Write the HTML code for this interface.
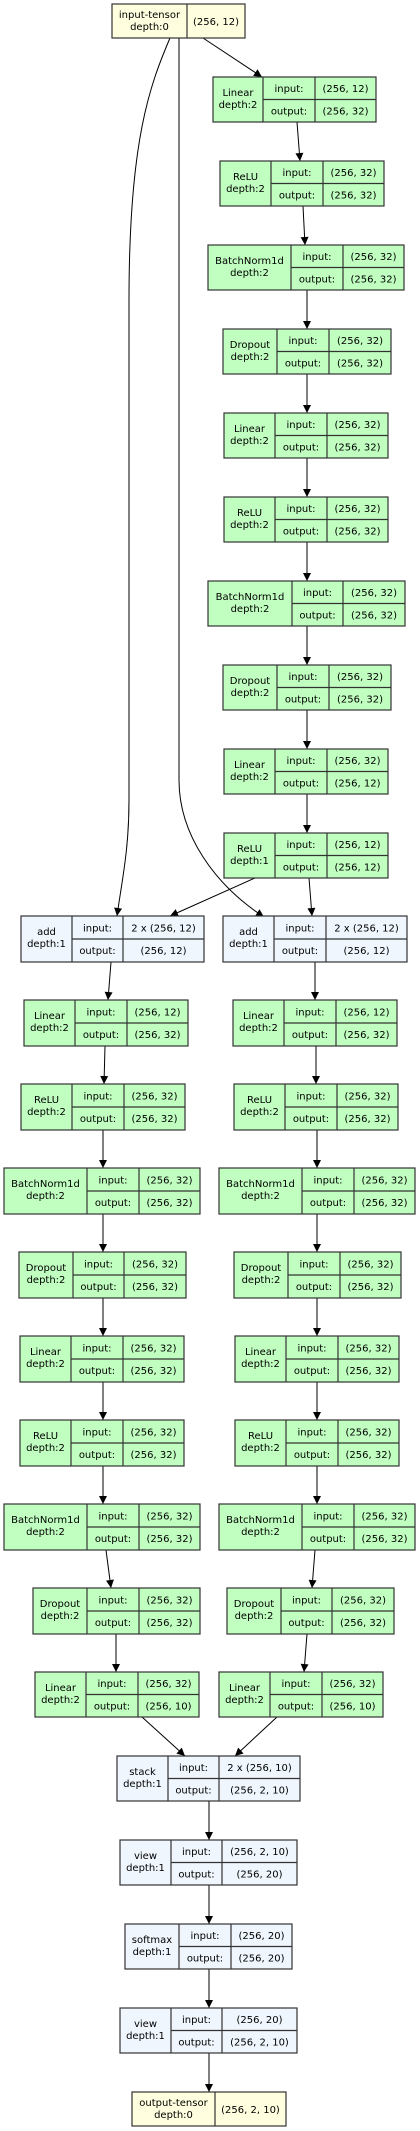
<!DOCTYPE html>
<html><head><meta charset="utf-8"><style>
html,body{margin:0;padding:0;background:#fff}
svg{display:block}
text{font-family:"DejaVu Sans","Liberation Sans",sans-serif;font-size:10px;fill:#000}
.g{fill:#c1ffc1;stroke:#333;stroke-width:1.2}
.b{fill:#eff6fd;stroke:#333;stroke-width:1.2}
.y{fill:#ffffe0;stroke:#333;stroke-width:1.2}
.l{stroke:#333;stroke-width:1.2}
.e{stroke:#000;stroke-width:1;fill:none;marker-end:url(#a)}
</style></head><body>
<svg width="420" height="2131" viewBox="0 0 420 2131" xmlns="http://www.w3.org/2000/svg">
<defs><marker id="a" viewBox="0 0 10 10" refX="10" refY="5" markerWidth="10" markerHeight="8" markerUnits="userSpaceOnUse" orient="auto"><path d="M0,0 L10,5 L0,10 z" fill="#000"/></marker></defs>

<!-- edges -->
<path class="e" d="M203,38 L262,77"/>
<path class="e" d="M297,122 L300,161"/>
<path class="e" d="M303,206 L305,245"/>
<path class="e" d="M307,290 L307,329"/>
<path class="e" d="M307,374 L307,413"/>
<path class="e" d="M307,458 L307,497"/>
<path class="e" d="M307,542 L307,581"/>
<path class="e" d="M307,626 L307,665"/>
<path class="e" d="M307,710 L307,749"/>
<path class="e" d="M307,794 L307,833"/>
<path class="e" d="M170,38 C150,85 129,140 129,300 L129,800 C129,850 122,880 117,916"/>
<path class="e" d="M179,38 L179,780 C179,835 215,885 264,917"/>
<path class="e" d="M255,878 L170,916"/>
<path class="e" d="M309,878 L312,916"/>
<path class="e" d="M111,962 L108,1000"/>
<path class="e" d="M105,1046 L104,1084"/>
<path class="e" d="M103,1130 L103,1168"/>
<path class="e" d="M103,1214 L103,1252"/>
<path class="e" d="M103,1298 L103,1336"/>
<path class="e" d="M103,1382 L103,1420"/>
<path class="e" d="M103,1466 L103,1504"/>
<path class="e" d="M106,1550 L111,1588"/>
<path class="e" d="M116,1634 L116,1672"/>
<path class="e" d="M142,1717 L185,1756"/>
<path class="e" d="M315,962 L315,1000"/>
<path class="e" d="M316,1046 L316,1084"/>
<path class="e" d="M317,1130 L317,1168"/>
<path class="e" d="M317,1214 L317,1252"/>
<path class="e" d="M317,1298 L317,1336"/>
<path class="e" d="M317,1382 L317,1420"/>
<path class="e" d="M317,1466 L317,1504"/>
<path class="e" d="M315,1550 L312,1588"/>
<path class="e" d="M307,1634 L304,1672"/>
<path class="e" d="M277,1717 L235,1756"/>
<path class="e" d="M209,1801 L209,1840"/>
<path class="e" d="M209,1885 L209,1924"/>
<path class="e" d="M209,1969 L209,2008"/>
<path class="e" d="M209,2053 L209,2092"/>

<!-- input tensor -->
<rect class="y" x="112" y="4" width="133" height="34"/><line class="l" x1="187" y1="4" x2="187" y2="38"/>
<text x="149.5" y="18" text-anchor="middle">input-tensor</text><text x="149.5" y="30" text-anchor="middle">depth:0</text>
<text x="216" y="25" text-anchor="middle">(256, 12)</text>

<!-- top chain -->
<g>
<rect class="g" x="213" y="77" width="163" height="45"/><line class="l" x1="263" y1="77" x2="263" y2="122"/><line class="l" x1="315" y1="77" x2="315" y2="122"/><line class="l" x1="263" y1="99.5" x2="376" y2="99.5"/>
<text x="238" y="96" text-anchor="middle">Linear</text><text x="238" y="108" text-anchor="middle">depth:2</text>
<text x="289" y="92" text-anchor="middle">input:</text><text x="345.5" y="92" text-anchor="middle">(256, 12)</text>
<text x="289" y="114.5" text-anchor="middle">output:</text><text x="345.5" y="114.5" text-anchor="middle">(256, 32)</text>
</g>
<g>
<rect class="g" x="220" y="161" width="164" height="45"/><line class="l" x1="271" y1="161" x2="271" y2="206"/><line class="l" x1="323" y1="161" x2="323" y2="206"/><line class="l" x1="271" y1="183.5" x2="384" y2="183.5"/>
<text x="245.5" y="180" text-anchor="middle">ReLU</text><text x="245.5" y="192" text-anchor="middle">depth:2</text>
<text x="297" y="176" text-anchor="middle">input:</text><text x="353.5" y="176" text-anchor="middle">(256, 32)</text>
<text x="297" y="198.5" text-anchor="middle">output:</text><text x="353.5" y="198.5" text-anchor="middle">(256, 32)</text>
</g>
<g>
<rect class="g" x="208" y="245" width="196" height="45"/><line class="l" x1="291" y1="245" x2="291" y2="290"/><line class="l" x1="343" y1="245" x2="343" y2="290"/><line class="l" x1="291" y1="267.5" x2="404" y2="267.5"/>
<text x="249.5" y="264" text-anchor="middle">BatchNorm1d</text><text x="249.5" y="276" text-anchor="middle">depth:2</text>
<text x="317" y="260" text-anchor="middle">input:</text><text x="373.5" y="260" text-anchor="middle">(256, 32)</text>
<text x="317" y="282.5" text-anchor="middle">output:</text><text x="373.5" y="282.5" text-anchor="middle">(256, 32)</text>
</g>
<g>
<rect class="g" x="223" y="329" width="168" height="45"/><line class="l" x1="277" y1="329" x2="277" y2="374"/><line class="l" x1="329" y1="329" x2="329" y2="374"/><line class="l" x1="277" y1="351.5" x2="391" y2="351.5"/>
<text x="250" y="348" text-anchor="middle">Dropout</text><text x="250" y="360" text-anchor="middle">depth:2</text>
<text x="303" y="344" text-anchor="middle">input:</text><text x="360" y="344" text-anchor="middle">(256, 32)</text>
<text x="303" y="366.5" text-anchor="middle">output:</text><text x="360" y="366.5" text-anchor="middle">(256, 32)</text>
</g>
<g>
<rect class="g" x="224" y="413" width="164" height="45"/><line class="l" x1="275" y1="413" x2="275" y2="458"/><line class="l" x1="327" y1="413" x2="327" y2="458"/><line class="l" x1="275" y1="435.5" x2="388" y2="435.5"/>
<text x="249.5" y="432" text-anchor="middle">Linear</text><text x="249.5" y="444" text-anchor="middle">depth:2</text>
<text x="301" y="428" text-anchor="middle">input:</text><text x="357.5" y="428" text-anchor="middle">(256, 32)</text>
<text x="301" y="450.5" text-anchor="middle">output:</text><text x="357.5" y="450.5" text-anchor="middle">(256, 32)</text>
</g>
<g>
<rect class="g" x="224" y="497" width="164" height="45"/><line class="l" x1="275" y1="497" x2="275" y2="542"/><line class="l" x1="327" y1="497" x2="327" y2="542"/><line class="l" x1="275" y1="519.5" x2="388" y2="519.5"/>
<text x="249.5" y="516" text-anchor="middle">ReLU</text><text x="249.5" y="528" text-anchor="middle">depth:2</text>
<text x="301" y="512" text-anchor="middle">input:</text><text x="357.5" y="512" text-anchor="middle">(256, 32)</text>
<text x="301" y="534.5" text-anchor="middle">output:</text><text x="357.5" y="534.5" text-anchor="middle">(256, 32)</text>
</g>
<g>
<rect class="g" x="208" y="581" width="197" height="45"/><line class="l" x1="292" y1="581" x2="292" y2="626"/><line class="l" x1="343" y1="581" x2="343" y2="626"/><line class="l" x1="292" y1="603.5" x2="405" y2="603.5"/>
<text x="250" y="600" text-anchor="middle">BatchNorm1d</text><text x="250" y="612" text-anchor="middle">depth:2</text>
<text x="317.5" y="596" text-anchor="middle">input:</text><text x="374" y="596" text-anchor="middle">(256, 32)</text>
<text x="317.5" y="618.5" text-anchor="middle">output:</text><text x="374" y="618.5" text-anchor="middle">(256, 32)</text>
</g>
<g>
<rect class="g" x="223" y="665" width="168" height="45"/><line class="l" x1="277" y1="665" x2="277" y2="710"/><line class="l" x1="329" y1="665" x2="329" y2="710"/><line class="l" x1="277" y1="687.5" x2="391" y2="687.5"/>
<text x="250" y="684" text-anchor="middle">Dropout</text><text x="250" y="696" text-anchor="middle">depth:2</text>
<text x="303" y="680" text-anchor="middle">input:</text><text x="360" y="680" text-anchor="middle">(256, 32)</text>
<text x="303" y="702.5" text-anchor="middle">output:</text><text x="360" y="702.5" text-anchor="middle">(256, 32)</text>
</g>
<g>
<rect class="g" x="224" y="749" width="164" height="45"/><line class="l" x1="275" y1="749" x2="275" y2="794"/><line class="l" x1="327" y1="749" x2="327" y2="794"/><line class="l" x1="275" y1="771.5" x2="388" y2="771.5"/>
<text x="249.5" y="768" text-anchor="middle">Linear</text><text x="249.5" y="780" text-anchor="middle">depth:2</text>
<text x="301" y="764" text-anchor="middle">input:</text><text x="357.5" y="764" text-anchor="middle">(256, 32)</text>
<text x="301" y="786.5" text-anchor="middle">output:</text><text x="357.5" y="786.5" text-anchor="middle">(256, 12)</text>
</g>
<g>
<rect class="g" x="224" y="833" width="164" height="45"/><line class="l" x1="275" y1="833" x2="275" y2="878"/><line class="l" x1="327" y1="833" x2="327" y2="878"/><line class="l" x1="275" y1="855.5" x2="388" y2="855.5"/>
<text x="249.5" y="852" text-anchor="middle">ReLU</text><text x="249.5" y="864" text-anchor="middle">depth:1</text>
<text x="301" y="848" text-anchor="middle">input:</text><text x="357.5" y="848" text-anchor="middle">(256, 12)</text>
<text x="301" y="870.5" text-anchor="middle">output:</text><text x="357.5" y="870.5" text-anchor="middle">(256, 12)</text>
</g>

<!-- add nodes -->
<g>
<rect class="b" x="21" y="916" width="183" height="46"/><line class="l" x1="72" y1="916" x2="72" y2="962"/><line class="l" x1="123" y1="916" x2="123" y2="962"/><line class="l" x1="72" y1="939" x2="204" y2="939"/>
<text x="46.5" y="935" text-anchor="middle">add</text><text x="46.5" y="947" text-anchor="middle">depth:1</text>
<text x="97.5" y="931.5" text-anchor="middle">input:</text><text x="163.5" y="931.5" text-anchor="middle">2 x (256, 12)</text>
<text x="97.5" y="954" text-anchor="middle">output:</text><text x="163.5" y="954" text-anchor="middle">(256, 12)</text>
</g>
<g>
<rect class="b" x="223" y="916" width="184" height="46"/><line class="l" x1="274" y1="916" x2="274" y2="962"/><line class="l" x1="326" y1="916" x2="326" y2="962"/><line class="l" x1="274" y1="939" x2="407" y2="939"/>
<text x="248.5" y="935" text-anchor="middle">add</text><text x="248.5" y="947" text-anchor="middle">depth:1</text>
<text x="300" y="931.5" text-anchor="middle">input:</text><text x="366.5" y="931.5" text-anchor="middle">2 x (256, 12)</text>
<text x="300" y="954" text-anchor="middle">output:</text><text x="366.5" y="954" text-anchor="middle">(256, 12)</text>
</g>

<!-- left chain -->
<g>
<rect class="g" x="24" y="1000" width="164" height="46"/><line class="l" x1="75" y1="1000" x2="75" y2="1046"/><line class="l" x1="127" y1="1000" x2="127" y2="1046"/><line class="l" x1="75" y1="1023" x2="188" y2="1023"/>
<text x="49.5" y="1019" text-anchor="middle">Linear</text><text x="49.5" y="1031" text-anchor="middle">depth:2</text>
<text x="101" y="1015.5" text-anchor="middle">input:</text><text x="157.5" y="1015.5" text-anchor="middle">(256, 12)</text>
<text x="101" y="1038" text-anchor="middle">output:</text><text x="157.5" y="1038" text-anchor="middle">(256, 32)</text>
</g>
<g>
<rect class="g" x="21" y="1084" width="164" height="46"/><line class="l" x1="72" y1="1084" x2="72" y2="1130"/><line class="l" x1="124" y1="1084" x2="124" y2="1130"/><line class="l" x1="72" y1="1107" x2="185" y2="1107"/>
<text x="46.5" y="1103" text-anchor="middle">ReLU</text><text x="46.5" y="1115" text-anchor="middle">depth:2</text>
<text x="98" y="1099.5" text-anchor="middle">input:</text><text x="154.5" y="1099.5" text-anchor="middle">(256, 32)</text>
<text x="98" y="1122" text-anchor="middle">output:</text><text x="154.5" y="1122" text-anchor="middle">(256, 32)</text>
</g>
<g>
<rect class="g" x="4" y="1168" width="196" height="46"/><line class="l" x1="87" y1="1168" x2="87" y2="1214"/><line class="l" x1="139" y1="1168" x2="139" y2="1214"/><line class="l" x1="87" y1="1191" x2="200" y2="1191"/>
<text x="45.5" y="1187" text-anchor="middle">BatchNorm1d</text><text x="45.5" y="1199" text-anchor="middle">depth:2</text>
<text x="113" y="1183.5" text-anchor="middle">input:</text><text x="169.5" y="1183.5" text-anchor="middle">(256, 32)</text>
<text x="113" y="1206" text-anchor="middle">output:</text><text x="169.5" y="1206" text-anchor="middle">(256, 32)</text>
</g>
<g>
<rect class="g" x="19" y="1252" width="167" height="46"/><line class="l" x1="73" y1="1252" x2="73" y2="1298"/><line class="l" x1="124" y1="1252" x2="124" y2="1298"/><line class="l" x1="73" y1="1275" x2="186" y2="1275"/>
<text x="46" y="1271" text-anchor="middle">Dropout</text><text x="46" y="1283" text-anchor="middle">depth:2</text>
<text x="98.5" y="1267.5" text-anchor="middle">input:</text><text x="155" y="1267.5" text-anchor="middle">(256, 32)</text>
<text x="98.5" y="1290" text-anchor="middle">output:</text><text x="155" y="1290" text-anchor="middle">(256, 32)</text>
</g>
<g>
<rect class="g" x="20" y="1336" width="164" height="46"/><line class="l" x1="71" y1="1336" x2="71" y2="1382"/><line class="l" x1="123" y1="1336" x2="123" y2="1382"/><line class="l" x1="71" y1="1359" x2="184" y2="1359"/>
<text x="45.5" y="1355" text-anchor="middle">Linear</text><text x="45.5" y="1367" text-anchor="middle">depth:2</text>
<text x="97" y="1351.5" text-anchor="middle">input:</text><text x="153.5" y="1351.5" text-anchor="middle">(256, 32)</text>
<text x="97" y="1374" text-anchor="middle">output:</text><text x="153.5" y="1374" text-anchor="middle">(256, 32)</text>
</g>
<g>
<rect class="g" x="20" y="1420" width="164" height="46"/><line class="l" x1="71" y1="1420" x2="71" y2="1466"/><line class="l" x1="123" y1="1420" x2="123" y2="1466"/><line class="l" x1="71" y1="1443" x2="184" y2="1443"/>
<text x="45.5" y="1439" text-anchor="middle">ReLU</text><text x="45.5" y="1451" text-anchor="middle">depth:2</text>
<text x="97" y="1435.5" text-anchor="middle">input:</text><text x="153.5" y="1435.5" text-anchor="middle">(256, 32)</text>
<text x="97" y="1458" text-anchor="middle">output:</text><text x="153.5" y="1458" text-anchor="middle">(256, 32)</text>
</g>
<g>
<rect class="g" x="4" y="1504" width="196" height="46"/><line class="l" x1="87" y1="1504" x2="87" y2="1550"/><line class="l" x1="139" y1="1504" x2="139" y2="1550"/><line class="l" x1="87" y1="1527" x2="200" y2="1527"/>
<text x="45.5" y="1523" text-anchor="middle">BatchNorm1d</text><text x="45.5" y="1535" text-anchor="middle">depth:2</text>
<text x="113" y="1519.5" text-anchor="middle">input:</text><text x="169.5" y="1519.5" text-anchor="middle">(256, 32)</text>
<text x="113" y="1542" text-anchor="middle">output:</text><text x="169.5" y="1542" text-anchor="middle">(256, 32)</text>
</g>
<g>
<rect class="g" x="33" y="1588" width="167" height="46"/><line class="l" x1="87" y1="1588" x2="87" y2="1634"/><line class="l" x1="139" y1="1588" x2="139" y2="1634"/><line class="l" x1="87" y1="1611" x2="200" y2="1611"/>
<text x="60" y="1607" text-anchor="middle">Dropout</text><text x="60" y="1619" text-anchor="middle">depth:2</text>
<text x="113" y="1603.5" text-anchor="middle">input:</text><text x="169.5" y="1603.5" text-anchor="middle">(256, 32)</text>
<text x="113" y="1626" text-anchor="middle">output:</text><text x="169.5" y="1626" text-anchor="middle">(256, 32)</text>
</g>
<g>
<rect class="g" x="35" y="1672" width="164" height="45"/><line class="l" x1="86" y1="1672" x2="86" y2="1717"/><line class="l" x1="138" y1="1672" x2="138" y2="1717"/><line class="l" x1="86" y1="1694.5" x2="199" y2="1694.5"/>
<text x="60.5" y="1691" text-anchor="middle">Linear</text><text x="60.5" y="1703" text-anchor="middle">depth:2</text>
<text x="112" y="1687" text-anchor="middle">input:</text><text x="168.5" y="1687" text-anchor="middle">(256, 32)</text>
<text x="112" y="1709.5" text-anchor="middle">output:</text><text x="168.5" y="1709.5" text-anchor="middle">(256, 10)</text>
</g>

<!-- right chain -->
<g>
<rect class="g" x="233" y="1000" width="164" height="46"/><line class="l" x1="284" y1="1000" x2="284" y2="1046"/><line class="l" x1="336" y1="1000" x2="336" y2="1046"/><line class="l" x1="284" y1="1023" x2="397" y2="1023"/>
<text x="258.5" y="1019" text-anchor="middle">Linear</text><text x="258.5" y="1031" text-anchor="middle">depth:2</text>
<text x="310" y="1015.5" text-anchor="middle">input:</text><text x="366.5" y="1015.5" text-anchor="middle">(256, 12)</text>
<text x="310" y="1038" text-anchor="middle">output:</text><text x="366.5" y="1038" text-anchor="middle">(256, 32)</text>
</g>
<g>
<rect class="g" x="234" y="1084" width="164" height="46"/><line class="l" x1="285" y1="1084" x2="285" y2="1130"/><line class="l" x1="337" y1="1084" x2="337" y2="1130"/><line class="l" x1="285" y1="1107" x2="398" y2="1107"/>
<text x="259.5" y="1103" text-anchor="middle">ReLU</text><text x="259.5" y="1115" text-anchor="middle">depth:2</text>
<text x="311" y="1099.5" text-anchor="middle">input:</text><text x="367.5" y="1099.5" text-anchor="middle">(256, 32)</text>
<text x="311" y="1122" text-anchor="middle">output:</text><text x="367.5" y="1122" text-anchor="middle">(256, 32)</text>
</g>
<g>
<rect class="g" x="219" y="1168" width="196" height="46"/><line class="l" x1="302" y1="1168" x2="302" y2="1214"/><line class="l" x1="354" y1="1168" x2="354" y2="1214"/><line class="l" x1="302" y1="1191" x2="415" y2="1191"/>
<text x="260.5" y="1187" text-anchor="middle">BatchNorm1d</text><text x="260.5" y="1199" text-anchor="middle">depth:2</text>
<text x="328" y="1183.5" text-anchor="middle">input:</text><text x="384.5" y="1183.5" text-anchor="middle">(256, 32)</text>
<text x="328" y="1206" text-anchor="middle">output:</text><text x="384.5" y="1206" text-anchor="middle">(256, 32)</text>
</g>
<g>
<rect class="g" x="234" y="1252" width="167" height="46"/><line class="l" x1="288" y1="1252" x2="288" y2="1298"/><line class="l" x1="340" y1="1252" x2="340" y2="1298"/><line class="l" x1="288" y1="1275" x2="401" y2="1275"/>
<text x="261" y="1271" text-anchor="middle">Dropout</text><text x="261" y="1283" text-anchor="middle">depth:2</text>
<text x="314" y="1267.5" text-anchor="middle">input:</text><text x="370.5" y="1267.5" text-anchor="middle">(256, 32)</text>
<text x="314" y="1290" text-anchor="middle">output:</text><text x="370.5" y="1290" text-anchor="middle">(256, 32)</text>
</g>
<g>
<rect class="g" x="235" y="1336" width="164" height="46"/><line class="l" x1="286" y1="1336" x2="286" y2="1382"/><line class="l" x1="338" y1="1336" x2="338" y2="1382"/><line class="l" x1="286" y1="1359" x2="399" y2="1359"/>
<text x="260.5" y="1355" text-anchor="middle">Linear</text><text x="260.5" y="1367" text-anchor="middle">depth:2</text>
<text x="312" y="1351.5" text-anchor="middle">input:</text><text x="368.5" y="1351.5" text-anchor="middle">(256, 32)</text>
<text x="312" y="1374" text-anchor="middle">output:</text><text x="368.5" y="1374" text-anchor="middle">(256, 32)</text>
</g>
<g>
<rect class="g" x="235" y="1420" width="164" height="46"/><line class="l" x1="286" y1="1420" x2="286" y2="1466"/><line class="l" x1="338" y1="1420" x2="338" y2="1466"/><line class="l" x1="286" y1="1443" x2="399" y2="1443"/>
<text x="260.5" y="1439" text-anchor="middle">ReLU</text><text x="260.5" y="1451" text-anchor="middle">depth:2</text>
<text x="312" y="1435.5" text-anchor="middle">input:</text><text x="368.5" y="1435.5" text-anchor="middle">(256, 32)</text>
<text x="312" y="1458" text-anchor="middle">output:</text><text x="368.5" y="1458" text-anchor="middle">(256, 32)</text>
</g>
<g>
<rect class="g" x="219" y="1504" width="196" height="46"/><line class="l" x1="302" y1="1504" x2="302" y2="1550"/><line class="l" x1="354" y1="1504" x2="354" y2="1550"/><line class="l" x1="302" y1="1527" x2="415" y2="1527"/>
<text x="260.5" y="1523" text-anchor="middle">BatchNorm1d</text><text x="260.5" y="1535" text-anchor="middle">depth:2</text>
<text x="328" y="1519.5" text-anchor="middle">input:</text><text x="384.5" y="1519.5" text-anchor="middle">(256, 32)</text>
<text x="328" y="1542" text-anchor="middle">output:</text><text x="384.5" y="1542" text-anchor="middle">(256, 32)</text>
</g>
<g>
<rect class="g" x="227" y="1588" width="167" height="46"/><line class="l" x1="281" y1="1588" x2="281" y2="1634"/><line class="l" x1="332" y1="1588" x2="332" y2="1634"/><line class="l" x1="281" y1="1611" x2="394" y2="1611"/>
<text x="254" y="1607" text-anchor="middle">Dropout</text><text x="254" y="1619" text-anchor="middle">depth:2</text>
<text x="306.5" y="1603.5" text-anchor="middle">input:</text><text x="363" y="1603.5" text-anchor="middle">(256, 32)</text>
<text x="306.5" y="1626" text-anchor="middle">output:</text><text x="363" y="1626" text-anchor="middle">(256, 32)</text>
</g>
<g>
<rect class="g" x="219" y="1672" width="164" height="45"/><line class="l" x1="270" y1="1672" x2="270" y2="1717"/><line class="l" x1="322" y1="1672" x2="322" y2="1717"/><line class="l" x1="270" y1="1694.5" x2="383" y2="1694.5"/>
<text x="244.5" y="1691" text-anchor="middle">Linear</text><text x="244.5" y="1703" text-anchor="middle">depth:2</text>
<text x="296" y="1687" text-anchor="middle">input:</text><text x="352.5" y="1687" text-anchor="middle">(256, 32)</text>
<text x="296" y="1709.5" text-anchor="middle">output:</text><text x="352.5" y="1709.5" text-anchor="middle">(256, 10)</text>
</g>

<!-- bottom -->
<g>
<rect class="b" x="117" y="1756" width="183" height="45"/><line class="l" x1="168" y1="1756" x2="168" y2="1801"/><line class="l" x1="219" y1="1756" x2="219" y2="1801"/><line class="l" x1="168" y1="1778.5" x2="300" y2="1778.5"/>
<text x="142.5" y="1775" text-anchor="middle">stack</text><text x="142.5" y="1787" text-anchor="middle">depth:1</text>
<text x="193.5" y="1771" text-anchor="middle">input:</text><text x="259.5" y="1771" text-anchor="middle">2 x (256, 10)</text>
<text x="193.5" y="1793.5" text-anchor="middle">output:</text><text x="259.5" y="1793.5" text-anchor="middle">(256, 2, 10)</text>
</g>
<g>
<rect class="b" x="120" y="1840" width="177" height="45"/><line class="l" x1="171" y1="1840" x2="171" y2="1885"/><line class="l" x1="222" y1="1840" x2="222" y2="1885"/><line class="l" x1="171" y1="1862.5" x2="297" y2="1862.5"/>
<text x="145.5" y="1859" text-anchor="middle">view</text><text x="145.5" y="1871" text-anchor="middle">depth:1</text>
<text x="196.5" y="1855" text-anchor="middle">input:</text><text x="259.5" y="1855" text-anchor="middle">(256, 2, 10)</text>
<text x="196.5" y="1877.5" text-anchor="middle">output:</text><text x="259.5" y="1877.5" text-anchor="middle">(256, 20)</text>
</g>
<g>
<rect class="b" x="125" y="1924" width="167" height="45"/><line class="l" x1="179" y1="1924" x2="179" y2="1969"/><line class="l" x1="231" y1="1924" x2="231" y2="1969"/><line class="l" x1="179" y1="1946.5" x2="292" y2="1946.5"/>
<text x="152" y="1943" text-anchor="middle">softmax</text><text x="152" y="1955" text-anchor="middle">depth:1</text>
<text x="205" y="1939" text-anchor="middle">input:</text><text x="261.5" y="1939" text-anchor="middle">(256, 20)</text>
<text x="205" y="1961.5" text-anchor="middle">output:</text><text x="261.5" y="1961.5" text-anchor="middle">(256, 20)</text>
</g>
<g>
<rect class="b" x="120" y="2008" width="177" height="45"/><line class="l" x1="171" y1="2008" x2="171" y2="2053"/><line class="l" x1="222" y1="2008" x2="222" y2="2053"/><line class="l" x1="171" y1="2030.5" x2="297" y2="2030.5"/>
<text x="145.5" y="2027" text-anchor="middle">view</text><text x="145.5" y="2039" text-anchor="middle">depth:1</text>
<text x="196.5" y="2023" text-anchor="middle">input:</text><text x="259.5" y="2023" text-anchor="middle">(256, 20)</text>
<text x="196.5" y="2045.5" text-anchor="middle">output:</text><text x="259.5" y="2045.5" text-anchor="middle">(256, 2, 10)</text>
</g>
<rect class="y" x="132" y="2092" width="154" height="34"/><line class="l" x1="215" y1="2092" x2="215" y2="2126"/>
<text x="173.5" y="2106" text-anchor="middle">output-tensor</text><text x="173.5" y="2118" text-anchor="middle">depth:0</text>
<text x="250.5" y="2113" text-anchor="middle">(256, 2, 10)</text>
</svg>
</body></html>
